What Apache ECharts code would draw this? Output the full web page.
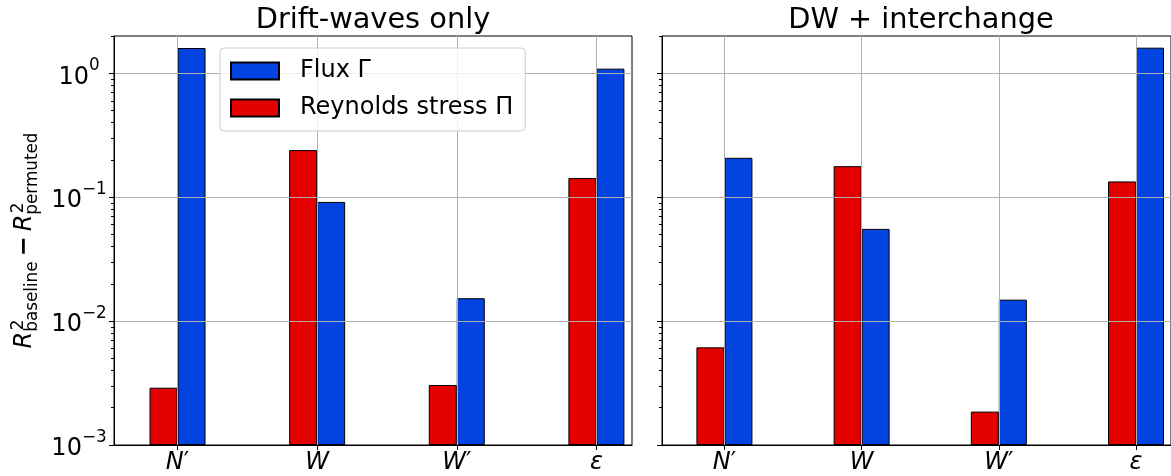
<!DOCTYPE html>
<html>
<head>
<meta charset="utf-8">
<script src="https://cdn.jsdelivr.net/npm/echarts@6/dist/echarts.min.js"></script>
<style>
  html, body { margin: 0; padding: 0; background: #fff; }
  #chart { width: 1171px; height: 476px; }
</style>
</head>
<body>
<div id="chart"></div>
<script>
// Predictor variables on the x axis (symbol, prime mark)
const categories = ['N′', 'W', 'W′', 'ε'];
const panelTitles = ['Drift-waves only', 'DW + interchange'];

// Drop in R² when each predictor is permuted — drift-waves only
const reynoldsDW = [0.0029, 0.24, 0.00305, 0.143];
const fluxDW = [1.60, 0.0916, 0.0153, 1.09];

// Drop in R² when each predictor is permuted — DW + interchange
const reynoldsDWI = [0.00614, 0.178, 0.00186, 0.134];
const fluxDWI = [0.208, 0.0555, 0.0149, 1.61];

// Log-axis ticks
const yTickValues = [0.001, 0.01, 0.1, 1];
const yTickExponents = ['−3', '−2', '−1', '0'];
const yMinorTicks = [];
[0.001, 0.01, 0.1, 1].forEach(d => { for (let k = 2; k <= 9; k++) yMinorTicks.push(+(d * k).toPrecision(3)); });
const xTickValues = [0, 1, 2, 3];

const FONT = '"DejaVu Sans", "Noto Sans", sans-serif';
const RED = '#e50000';
const BLUE = '#0343df';
const GRID_COLOR = '#b0b0b0';

const grids = [
  { left: 114, right: 539, top: 36, bottom: 31 },
  { left: 662, right: -9, top: 36, bottom: 31 }
];

function pairs(vals) { return vals.map((v, i) => [xTickValues[i], v]); }

// italic symbol, upright prime
function categoryLabel(v) {
  const c = categories[Math.round(v)] || '';
  const sym = c.replace('′', '');
  return '{i|' + sym + '}' + (c.indexOf('′') >= 0 ? '{p|′}' : '');
}

const xAxes = grids.map((g, gi) => ({
  type: 'value', gridIndex: gi, min: -0.455, max: 3.255, z: 3,
  axisLine: { show: true, onZero: false, lineStyle: { color: '#000', width: 1 } },
  axisTick: { show: true, customValues: xTickValues, length: 5, lineStyle: { color: '#000', width: 1 } },
  axisLabel: {
    show: true, customValues: xTickValues, margin: 6,
    formatter: categoryLabel,
    rich: {
      i: { fontSize: 24, fontStyle: 'italic', fontFamily: FONT, color: '#000' },
      p: { fontSize: 24, fontFamily: FONT, color: '#000' }
    }
  },
  splitLine: { show: true, lineStyle: { color: GRID_COLOR, width: 1 } }
}));

const yAxes = [];
grids.forEach((g, gi) => {
  yAxes.push({
    type: 'log', logBase: 10, gridIndex: gi, min: 0.001, max: 2, startValue: 0.001, z: 3,
    position: 'left',
    axisLine: { show: true, onZero: false, lineStyle: { color: '#000', width: 1 } },
    axisTick: { show: true, customValues: yTickValues, length: 5, lineStyle: { color: '#000', width: 1 } },
    axisLabel: {
      show: gi === 0, customValues: yTickValues, margin: 35, align: 'center',
      formatter: v => {
        const i = yTickValues.findIndex(t => Math.abs(t - v) / t < 1e-6);
        return '{b|10}{s|' + yTickExponents[i] + '}';
      },
      rich: {
        b: { fontSize: 24, fontFamily: FONT, color: '#000', lineHeight: 32, verticalAlign: 'bottom' },
        s: { fontSize: 16.8, fontFamily: FONT, color: '#000', lineHeight: 20, verticalAlign: 'top' }
      }
    },
    splitLine: { show: true, lineStyle: { color: GRID_COLOR, width: 1 } },
    minorTick: { show: false }
  });
  // minor ticks on the log axis
  yAxes.push({
    type: 'log', logBase: 10, gridIndex: gi, min: 0.001, max: 2, position: 'left', offset: 0, z: 3,
    axisLine: { show: false, onZero: false },
    axisTick: { show: true, customValues: yMinorTicks, length: 3, lineStyle: { color: '#000', width: 1 } },
    axisLabel: { show: false },
    splitLine: { show: false }
  });
});

function barSeries(name, vals, color, gi) {
  return {
    name, type: 'bar', xAxisIndex: gi, yAxisIndex: gi * 2,
    data: pairs(vals), barWidth: 28, barGap: '0%',
    itemStyle: { color, borderColor: '#000', borderWidth: 1 },
    emphasis: { disabled: true }
  };
}

const series = [
  barSeries('Reynolds stress Π', reynoldsDW, RED, 0),
  barSeries('Flux Γ', fluxDW, BLUE, 0),
  barSeries('Reynolds stress Π', reynoldsDWI, RED, 1),
  barSeries('Flux Γ', fluxDWI, BLUE, 1)
];

// y-axis label: R²_baseline − R²_permuted, laid out piece by piece and rotated
const ctx = document.createElement('canvas').getContext('2d');
function textWidth(t, font) { ctx.font = font; return ctx.measureText(t).width; }
const bigSize = 24, smallSize = 16.8;
const bigItalic = 'italic ' + bigSize + 'px ' + FONT;
const big = bigSize + 'px ' + FONT;
const small = smallSize + 'px ' + FONT;
const mid = fs => -0.346 * fs;   // offset from baseline to text middle
const pieces = [];
let cx = 0;
function addR() {
  pieces.push({ t: 'R', font: bigItalic, fs: bigSize, x: cx, base: 0, style: 'italic' });
  cx += textWidth('R', bigItalic);
}
function addScripts(sup, sub) {
  pieces.push({ t: sup, font: small, fs: smallSize, x: cx + 1.5, base: -8.5 });
  pieces.push({ t: sub, font: small, fs: smallSize, x: cx, base: 5 });
  cx += Math.max(textWidth(sup, small) + 1.5, textWidth(sub, small));
}
addR(); addScripts('2', 'baseline');
cx += 5;
pieces.push({ t: '−', font: 'bold ' + big, fs: bigSize, x: cx, base: 0, weight: 'bold' });
cx += textWidth('−', 'bold ' + big) + 5;
addR(); addScripts('2', 'permuted');
const labelLen = cx;
const axisMid = 36 + (476 - 36 - 31) / 2;

const yLabelGroup = {
  type: 'group', x: 33, y: axisMid + labelLen / 2, rotation: Math.PI / 2,
  children: pieces.map(p => ({
    type: 'text', x: p.x, y: p.base + mid(p.fs),
    style: {
      text: p.t, fontSize: p.fs, fontFamily: FONT, fontStyle: p.style || 'normal',
      fontWeight: p.weight || 'normal', fill: '#000',
      textAlign: 'left', textVerticalAlign: 'middle', align: 'left', verticalAlign: 'middle'
    }
  }))
};

const titleGraphics = grids.map((g, gi) => {
  const left = g.left, right = 1171 - g.right;
  return {
    type: 'text', x: (left + right) / 2, y: 30.3 + mid(28.8),
    style: {
      text: panelTitles[gi], fontSize: 28.8, fontFamily: FONT, fill: '#000',
      textAlign: 'center', textVerticalAlign: 'middle', align: 'center', verticalAlign: 'middle'
    }
  };
});

const chart = echarts.init(document.getElementById('chart'), null, { renderer: 'canvas' });
chart.setOption({
  animation: false,
  backgroundColor: '#fff',
  grid: grids.map(g => Object.assign({ show: true, borderColor: '#000', borderWidth: 1, backgroundColor: 'transparent' }, g)),
  xAxis: xAxes,
  yAxis: yAxes,
  legend: {
    data: ['Flux Γ', 'Reynolds stress Π'],
    orient: 'vertical', left: 220, top: 48,
    padding: [11, 12, 11, 10],
    itemWidth: 48, itemHeight: 17, itemGap: 13,
    icon: 'rect',
    textStyle: { fontSize: 24, fontFamily: FONT, color: '#000', padding: [0, 0, 0, 16] },
    backgroundColor: 'rgba(255,255,255,0.8)',
    borderColor: '#cccccc', borderWidth: 1, borderRadius: 4,
    selectedMode: false
  },
  graphic: [yLabelGroup].concat(titleGraphics),
  series
});
</script>
</body>
</html>
